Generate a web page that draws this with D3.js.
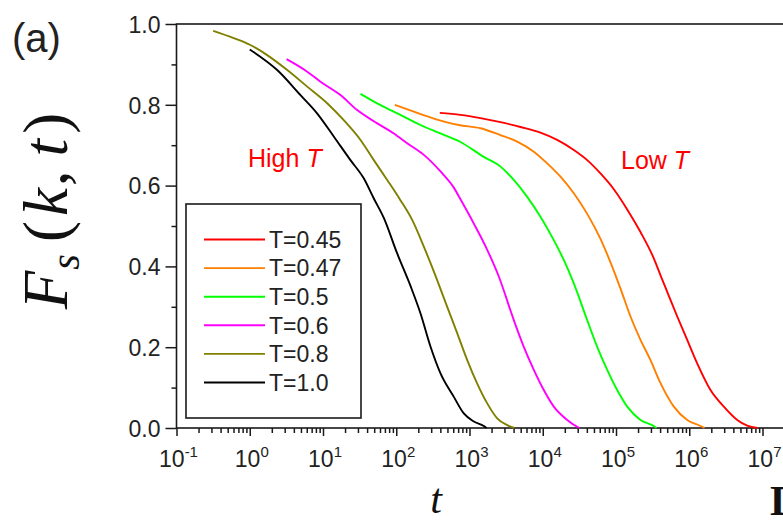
<!DOCTYPE html>
<html>
<head>
<meta charset="utf-8">
<script src="https://cdn.jsdelivr.net/npm/d3@7"></script>
<style>
body { margin: 0; background: #fff; }
.tick text { font-family: "Liberation Sans", Arial, sans-serif; }
</style>
</head>
<body>
<div id="chart"></div>
<script>
// series names and colours
var labels = ["T=0.45", "T=0.47", "T=0.5", "T=0.6", "T=0.8", "T=1.0"];
var colors = ["#ff0000", "#ff8000", "#00ff00", "#ff00ff", "#808000", "#000000"];

// time values (t) and Fs(k,t)
var t045 = [393, 753, 1413, 2650, 4966, 9310, 15740, 26540, 40450, 61400, 93300, 142200, 216000, 328100, 405200, 500000, 685500, 937800, 1283000, 1950000, 2965000, 4520000, 6180000, 8550000];
var f045 = [0.780, 0.775, 0.767, 0.757, 0.745, 0.731, 0.713, 0.688, 0.663, 0.630, 0.591, 0.541, 0.485, 0.420, 0.378, 0.337, 0.276, 0.218, 0.160, 0.094, 0.053, 0.020, 0.006, 0.0];

var t047 = [95.5, 174, 326, 714, 1413, 2650, 4480, 7551, 11500, 17470, 26540, 40450, 61400, 84100, 115200, 157700, 216000, 295800, 405200, 615500, 937800, 1426000, 1615000];
var f047 = [0.800, 0.783, 0.766, 0.750, 0.742, 0.725, 0.709, 0.684, 0.655, 0.622, 0.581, 0.530, 0.468, 0.410, 0.345, 0.276, 0.218, 0.168, 0.111, 0.053, 0.020, 0.005, 0.0];

var t05 = [32.5, 61, 114, 214, 402, 753, 1567, 2650, 4027, 6135, 9310, 14150, 19380, 26540, 40450, 55350, 75860, 103800, 142200, 216000, 328100, 357000];
var f05 = [0.827, 0.799, 0.775, 0.750, 0.729, 0.708, 0.671, 0.647, 0.614, 0.572, 0.523, 0.465, 0.416, 0.358, 0.267, 0.201, 0.144, 0.094, 0.053, 0.020, 0.005, 0.0];

var t06 = [3.18, 6.09, 9.24, 17.3, 29.3, 55, 92.6, 141, 238, 402, 611, 753, 1145, 1746, 2512, 4027, 5510, 7551, 10330, 14150, 21570, 29500, 31770];
var f06 = [0.913, 0.882, 0.857, 0.824, 0.787, 0.754, 0.729, 0.705, 0.676, 0.635, 0.595, 0.566, 0.506, 0.441, 0.375, 0.267, 0.201, 0.144, 0.094, 0.053, 0.020, 0.003, 0.0];

var t08 = [0.317, 0.605, 1.02, 1.73, 3.25, 6.09, 11.4, 19.2, 32.5, 49.4, 75.2, 114, 165, 238, 362, 496, 679, 931, 1274, 1746, 2388, 3273, 4113];
var f08 = [0.983, 0.965, 0.948, 0.923, 0.886, 0.845, 0.804, 0.762, 0.713, 0.663, 0.614, 0.564, 0.515, 0.449, 0.366, 0.300, 0.235, 0.168, 0.110, 0.061, 0.024, 0.007, 0.0];

var t10 = [1.0, 2.37, 4.93, 8.3, 14.1, 23.7, 36, 49.4, 67.6, 103, 157, 214, 294, 402, 611, 836, 1145, 1567, 1707];
var f10 = [0.937, 0.886, 0.824, 0.779, 0.721, 0.663, 0.618, 0.568, 0.52, 0.432, 0.351, 0.284, 0.201, 0.135, 0.077, 0.036, 0.016, 0.005, 0.0];

// axis ticks
var xExponents = [-1, 0, 1, 2, 3, 4, 5, 6, 7];
var yMajor = [0, 0.2, 0.4, 0.6, 0.8, 1.0];
var yMinor = [0.1, 0.3, 0.5, 0.7, 0.9];

var seriesT = [t045, t047, t05, t06, t08, t10];
var seriesF = [f045, f047, f05, f06, f08, f10];

var W = 783, H = 522;
var plotLeft = 176.5, plotTop = 24, plotBottom = 428;
var decade = 73.25;

var svg = d3.select("#chart").append("svg")
    .attr("width", W)
    .attr("height", H)
    .style("font-family", "'Liberation Sans', Arial, sans-serif");

var xScale = d3.scaleLog().domain([0.1, Math.pow(10, 7.4)]).range([plotLeft, plotLeft + 8.4 * decade]);
var yScale = d3.scaleLinear().domain([0, 1]).range([plotBottom, plotTop]);

// minor log ticks 2..9 in each decade
var xMinor = [];
for (var e = -1; e <= 7; e++) {
    for (var m = 2; m <= 9; m++) {
        xMinor.push(m * Math.pow(10, e));
    }
}

var axisColor = "#1a1a1a";

var gx = svg.append("g")
    .attr("transform", "translate(0," + plotBottom + ")")
    .call(d3.axisBottom(xScale).tickValues(xMinor).tickSize(5).tickFormat(""));
gx.append("g")
    .call(d3.axisBottom(xScale).tickValues(xExponents.map(function(d) { return Math.pow(10, d); })).tickSize(8).tickFormat(""));
gx.selectAll(".domain").remove();
gx.selectAll("line").attr("stroke", axisColor).attr("stroke-width", 1.5);

// x tick labels with exponents
var xl = svg.append("g")
    .selectAll("text")
    .data(xExponents)
    .enter()
    .append("text")
    .attr("x", function(d) { return xScale(Math.pow(10, d)) + 2; })
    .attr("y", 467)
    .attr("text-anchor", "middle")
    .attr("fill", "#222")
    .style("font-size", "23px");
xl.append("tspan").text("10");
xl.append("tspan")
    .attr("dy", -10)
    .style("font-size", "15px")
    .text(function(d) { return d; });

var gy = svg.append("g")
    .attr("transform", "translate(" + plotLeft + ",0)")
    .call(d3.axisLeft(yScale).tickValues(yMinor).tickSize(5).tickFormat(""));
var gyMajor = gy.append("g")
    .call(d3.axisLeft(yScale).tickValues(yMajor).tickSize(11).tickPadding(5).tickFormat(d3.format(".1f")));
gy.selectAll(".domain").remove();
gy.selectAll("line").attr("stroke", axisColor).attr("stroke-width", 1.5);
gyMajor.selectAll("text")
    .attr("fill", "#222")
    .style("font-size", "23px")
    .attr("dy", "0.36em");

// plot frame (right edge is off the page)
svg.append("rect")
    .attr("x", plotLeft)
    .attr("y", plotTop)
    .attr("width", 640)
    .attr("height", plotBottom - plotTop)
    .attr("fill", "none")
    .attr("stroke", axisColor)
    .attr("stroke-width", 1.6);

var line = d3.line()
    .curve(d3.curveMonotoneX)
    .x(function(d) { return xScale(d[0]); })
    .y(function(d) { return yScale(d[1]); });

svg.append("g")
    .selectAll("path")
    .data(seriesT)
    .enter()
    .append("path")
    .attr("d", function(d, i) { return line(d3.zip(d, seriesF[i])); })
    .attr("fill", "none")
    .attr("stroke", function(d, i) { return colors[i]; })
    .attr("stroke-width", 1.9);

// legend
var legend = svg.append("g");
legend.append("rect")
    .attr("x", 186)
    .attr("y", 204)
    .attr("width", 175)
    .attr("height", 214)
    .attr("fill", "#fff")
    .attr("stroke", axisColor)
    .attr("stroke-width", 1.6);
var rows = legend.selectAll("g")
    .data(labels)
    .enter()
    .append("g")
    .attr("transform", function(d, i) { return "translate(0," + (239.5 + i * 28.6) + ")"; });
rows.append("line")
    .attr("x1", 204).attr("x2", 265)
    .attr("stroke", function(d, i) { return colors[i]; })
    .attr("stroke-width", 1.9);
rows.append("text")
    .attr("x", 269)
    .attr("dy", "0.36em")
    .attr("fill", "#222")
    .style("font-size", "23px")
    .text(function(d) { return d; });

// annotations
var high = svg.append("text").attr("x", 248).attr("y", 167).attr("fill", "#ff0000").style("font-size", "25px");
high.append("tspan").text("High ");
high.append("tspan").style("font-style", "italic").text("T");
var low = svg.append("text").attr("x", 621).attr("y", 169).attr("fill", "#ff0000").style("font-size", "25px");
low.append("tspan").text("Low ");
low.append("tspan").style("font-style", "italic").text("T");

svg.append("text")
    .attr("x", 12)
    .attr("y", 52)
    .attr("fill", "#222")
    .style("font-size", "40px")
    .text("(a)");

// axis titles
var serif = "'Liberation Serif', 'Times New Roman', serif";
var yt = svg.append("text")
    .attr("transform", "translate(67,211) rotate(-90)")
    .attr("text-anchor", "middle")
    .attr("fill", "#111")
    .style("font-family", serif)
    .style("font-size", "63px");
yt.append("tspan").style("font-style", "italic").text("F");
yt.append("tspan").style("font-style", "italic").style("font-size", "40px").attr("dy", 12).attr("dx", 1).text("s");
yt.append("tspan").attr("dy", -12).attr("dx", 12).text("(");
yt.append("tspan").style("font-style", "italic").attr("dx", 5).text("k");
yt.append("tspan").attr("dx", 2).text(",");
yt.append("tspan").style("font-style", "italic").attr("dx", 14).text("t");
yt.append("tspan").attr("dx", 5).text(")");

svg.append("text")
    .attr("x", 436)
    .attr("y", 513)
    .attr("text-anchor", "middle")
    .attr("fill", "#111")
    .style("font-family", serif)
    .style("font-style", "italic")
    .style("font-size", "42px")
    .text("t");

// edge of the neighbouring panel's label
svg.append("text")
    .attr("x", 770)
    .attr("y", 515)
    .attr("fill", "#111")
    .style("font-family", serif)
    .style("font-weight", "bold")
    .style("font-size", "42px")
    .text("D");
</script>
</body>
</html>
